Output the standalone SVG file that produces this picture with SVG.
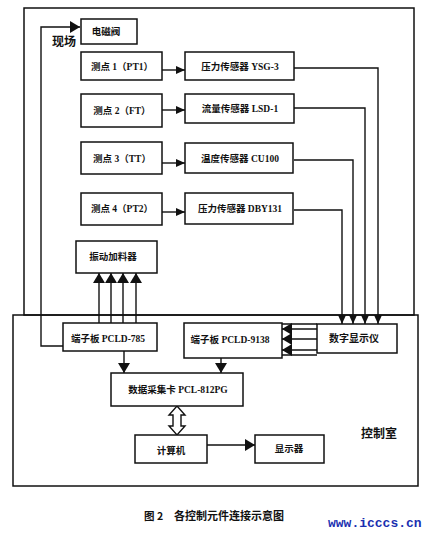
<svg xmlns="http://www.w3.org/2000/svg" width="433" height="535" viewBox="0 0 433 535">
<style>
.box{fill:#fff;stroke:#111;stroke-width:1.5}
.frame{fill:none;stroke:#111;stroke-width:1.5}
.ln{fill:none;stroke:#111;stroke-width:1.4}
.t{font-family:"Liberation Serif","Noto Sans CJK SC",serif;font-weight:bold;font-size:9.5px;fill:#111;text-anchor:middle}
.big{font-family:"Noto Sans CJK SC",sans-serif;font-weight:bold;font-size:12px;fill:#111}
</style>
<defs>
<marker id="ah" markerUnits="userSpaceOnUse" markerWidth="10" markerHeight="8" refX="9" refY="4" orient="auto">
<path d="M0,0 L9,4 L0,8 Z" fill="#111"/>
</marker>
<marker id="ahb" markerUnits="userSpaceOnUse" markerWidth="11" markerHeight="12" refX="10" refY="6" orient="auto">
<path d="M0,0 L10,6 L0,12 Z" fill="#111"/>
</marker>
</defs>
<rect class="frame" x="24" y="8" width="390" height="307"/>
<rect class="frame" x="13" y="315" width="405" height="171"/>
<text class="big" x="52" y="46">现场</text>
<text class="big" x="361" y="438">控制室</text>
<g id="connectors">
<path class="ln" d="M63,346 H41 V27 H80" marker-end="url(#ahb)"/>
<path class="ln" d="M162,70 H185" marker-end="url(#ah)"/>
<path class="ln" d="M162,110 H185" marker-end="url(#ah)"/>
<path class="ln" d="M162,163 H185" marker-end="url(#ah)"/>
<path class="ln" d="M162,212 H185" marker-end="url(#ah)"/>
<path class="ln" d="M294,68 H378 V324" marker-end="url(#ah)"/>
<path class="ln" d="M294,108 H365 V324" marker-end="url(#ah)"/>
<path class="ln" d="M294,160 H353 V324" marker-end="url(#ah)"/>
<path class="ln" d="M294,210 H342 V324" marker-end="url(#ah)"/>
<path class="ln" d="M99,323 V273" marker-end="url(#ahb)"/>
<path class="ln" d="M111,323 V273" marker-end="url(#ahb)"/>
<path class="ln" d="M123,323 V273" marker-end="url(#ahb)"/>
<path class="ln" d="M136,323 V273" marker-end="url(#ahb)"/>
<path class="ln" d="M317,329 H282" marker-end="url(#ahb)"/>
<path class="ln" d="M317,339 H282" marker-end="url(#ahb)"/>
<path class="ln" d="M317,350 H282" marker-end="url(#ahb)"/>
<path class="ln" d="M282,324 H317 M282,355 H317"/>
<path class="ln" d="M124,351 V373" marker-end="url(#ahb)"/>
<path class="ln" d="M221,358 V373" marker-end="url(#ahb)"/>
<path d="M177,406 L185,415 H181 V426 H185 L177,435 L169,426 H173 V415 H169 Z" fill="#fff" stroke="#111" stroke-width="1.4"/>
<path class="ln" d="M207,445 H255" marker-end="url(#ahb)"/>
</g>
<g id="dcf"><rect class="box" x="81" y="19" width="56" height="25"/><text class="t" x="106" y="35">电磁阀</text></g>
<g id="p1"><rect class="box" x="81" y="52" width="81" height="28"/><text class="t" x="122" y="70">测点 1（PT1）</text></g>
<g id="p2"><rect class="box" x="81" y="94" width="81" height="33"/><text class="t" x="122" y="114">测点 2（FT）</text></g>
<g id="p3"><rect class="box" x="81" y="142" width="81" height="32"/><text class="t" x="122" y="162">测点 3（TT）</text></g>
<g id="p4"><rect class="box" x="81" y="193" width="81" height="32"/><text class="t" x="122" y="212">测点 4（PT2）</text></g>
<g id="s1"><rect class="box" x="185" y="52" width="109" height="28"/><text class="t" x="240" y="70">压力传感器 YSG-3</text></g>
<g id="s2"><rect class="box" x="185" y="94" width="109" height="29"/><text class="t" x="240" y="112">流量传感器 LSD-1</text></g>
<g id="s3"><rect class="box" x="185" y="143" width="108" height="30"/><text class="t" x="240" y="162">温度传感器 CU100</text></g>
<g id="s4"><rect class="box" x="185" y="193" width="108" height="31"/><text class="t" x="240" y="212">压力传感器 DBY131</text></g>
<g id="feeder"><rect class="box" x="76" y="241" width="81" height="32"/><text class="t" x="113" y="260">振动加料器</text></g>
<g id="tb785"><rect class="box" x="63" y="323" width="94" height="28"/><text class="t" x="108" y="342">端子板 PCLD-785</text></g>
<g id="tb9138"><rect class="box" x="184" y="323" width="98" height="35"/><text class="t" x="230" y="343">端子板 PCLD-9138</text></g>
<g id="disp"><rect class="box" x="317" y="324" width="80" height="29"/><text class="t" x="354" y="342" style="font-size:10px">数字显示仪</text></g>
<g id="daq"><rect class="box" x="111" y="373" width="132" height="33"/><text class="t" x="178" y="393">数据采集卡 PCL-812PG</text></g>
<g id="pc"><rect class="box" x="135" y="435" width="72" height="28"/><text class="t" x="171" y="454">计算机</text></g>
<g id="mon"><rect class="box" x="255" y="435" width="69" height="28"/><text class="t" x="289" y="452">显示器</text></g>
<text x="144" y="520" style="font-family:'Noto Sans CJK SC',sans-serif;font-weight:bold;font-size:10.5px;fill:#111">图 2</text>
<text x="174" y="520" style="font-family:'Noto Sans CJK SC',sans-serif;font-weight:bold;font-size:11px;fill:#111">各控制元件连接示意图</text>
<text x="328" y="527" style="font-family:'Liberation Mono',monospace;font-weight:bold;font-size:13px;fill:#1a2fb0">www.icccs.cn</text>
</svg>
